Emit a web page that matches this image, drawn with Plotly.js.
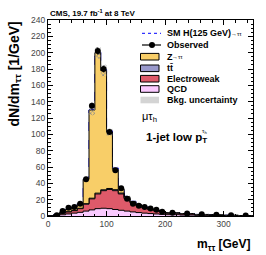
<!DOCTYPE html>
<html><head>
<script src="https://cdn.plot.ly/plotly-3.0.1.min.js"></script>
<style>body{margin:0;background:#fff}</style>
</head><body>
<div id="c" style="width:266px;height:255px"></div>
<script>
// ---- data (dN/dm, 1/GeV) ----
const binEdges = [0,10,20,30,40,50,60,70,80,90,100,110,120,130,140,150,160,170,180,190,200,225,250,275,300,325,350];
const qcd   = [0,0.5,1.5,2.5,3.5,4.5,6,7.5,9,9.5,9,8,7,6,5,4.2,3.5,3,2.5,2,1.6,1.1,0.8,0.5,0.3,0.2];
const ewk   = [0,1,2,2.5,3,4.5,8.5,13.5,18,21.5,23.5,23,20,15,11,8.3,6.5,5,4,3,1.9,1.4,0.8,0.6,0.4,0.2];
const ttbar = [0,0.1,0.2,0.3,0.4,0.5,0.6,0.8,1,1.1,1.2,1.2,1.1,1,0.9,0.8,0.7,0.6,0.5,0.5,0.4,0.3,0.25,0.2,0.15,0.1];
const ztt   = [0,0.4,1.3,2.7,4.1,5.5,29.9,108,172,146,69,25,5,1.5,0.8,0.5,0.3,0.2,0.2,0.1,0.1,0.1,0.05,0,0,0];
const higgs = [0,0,0,0,0,0,0.1,0.3,0.6,1.2,1.5,1.5,1,0.6,0.3,0.2,0.1,0,0,0,0,0,0,0,0,0];
const bkgErr= [0,0.3,0.6,0.8,1,1.3,3,6.5,7,7,4.5,3,2,1.5,1.2,1,0.8,0.7,0.6,0.5,0.4,0.3,0.25,0.2,0.15,0.1];
const obsX  = [15,25,35,45,55,65,75,85,95,105,115,125,135,145,155,165,175,185,195,212.5,237.5,262.5,287.5,312.5,337.5];
const obsY  = [1,6,10,11,15,45,135,202,180,103,56,34,21,15,12.6,11,9.3,7.7,5.3,4,3,2,1.5,1,0.5];
const obsErr= [0.3,0.8,1,1,1.2,2.1,3.7,4.5,4.2,3.2,2.4,1.8,1.5,1.2,1.1,1,1,0.9,0.7,0.4,0.35,0.3,0.25,0.2,0.15];

// ---- helpers ----
function cum(...arrs){ return arrs[0].map((_,i)=>arrs.reduce((s,a)=>s+a[i],0)); }
function stepY(v){ return v.concat([v[v.length-1]]); }
const c1 = cum(qcd);
const c2 = cum(qcd,ewk);
const c3 = cum(qcd,ewk,ttbar);
const c4 = cum(qcd,ewk,ttbar,ztt);
const c5 = cum(qcd,ewk,ttbar,ztt,higgs);
const lo = c4.map((v,i)=>Math.max(0,v-bkgErr[i]));
const hi = c4.map((v,i)=>v+bkgErr[i]);

const COL = {ztt:'#F8CE68', tt:'#9999CC', ewk:'#DE5A6A', qcd:'#FACAFF'};
const FONT = 'Liberation Sans, Arial, Helvetica, sans-serif';

function stack(y, color, fill){
  return {x:binEdges, y:stepY(y), type:'scatter', mode:'lines', line:{shape:'hv', color:'#000', width:1},
          fill:fill, fillcolor:color, hoverinfo:'skip', showlegend:false};
}
const traces = [
  {x:binEdges, y:stepY(c5), type:'scatter', mode:'lines', line:{shape:'hv', color:'#0000FF', width:1, dash:'dash'}, showlegend:false, hoverinfo:'skip'},
  stack(c1, COL.qcd, 'tozeroy'),
  stack(c2, COL.ewk, 'tonexty'),
  stack(c3, COL.tt, 'tonexty'),
  stack(c4, COL.ztt, 'tonexty'),
  {x:binEdges, y:stepY(lo), type:'scatter', mode:'lines', line:{shape:'hv', width:0, color:'rgba(0,0,0,0)'}, showlegend:false, hoverinfo:'skip'},
  {x:binEdges, y:stepY(hi), type:'scatter', mode:'lines', line:{shape:'hv', width:0, color:'rgba(0,0,0,0)'}, fill:'tonexty',
   fillcolor:'rgba(0,0,0,0)', fillpattern:{shape:'x', fgcolor:'#8a8a8a', bgcolor:'rgba(0,0,0,0)', size:3, solidity:0.45}, showlegend:false, hoverinfo:'skip'},
  {x:obsX, y:obsY, type:'scatter', mode:'markers', marker:{color:'#000', size:6},
   error_y:{type:'data', array:obsErr, visible:true, color:'#000', thickness:1, width:0}, showlegend:false, hoverinfo:'skip'}
];

// pixel -> paper helpers for decorations (plot area 48..253 x, 20..216 y)
const L=48, R=253, T=20, B=216;
const px = v => (v-L)/(R-L);
const py = v => (B-v)/(B-T);

const shapes = [];
const annotations = [];
function txt(x, y, text, size, anchor){
  annotations.push({xref:'paper', yref:'paper', x:px(x), y:py(y), xanchor:anchor||'left', yanchor:'middle', showarrow:false,
    text:text, font:{family:FONT, size:size, color:'#000'}});
}
// SM H
shapes.push({type:'line', xref:'paper', yref:'paper', x0:px(142), x1:px(161), y0:py(33.3), y1:py(33.3), line:{color:'#0000FF', width:1, dash:'dot'}});
txt(164.5, 33.3, '<b>SM H(125 GeV)</b>', 9);
txt(228.5, 33.8, '→ττ', 6);
// Observed
shapes.push({type:'line', xref:'paper', yref:'paper', x0:px(142), x1:px(161), y0:py(45), y1:py(45), line:{color:'#000', width:1.2}});
shapes.push({type:'circle', xref:'paper', yref:'paper', x0:px(149), x1:px(155), y0:py(48), y1:py(42), fillcolor:'#000', line:{width:0}});
txt(164.5, 45, '<b>Observed</b>', 9);
const boxes = [[56.7, COL.ztt, '<b>Z</b>'],
               [68.3, COL.tt, '<b>tt̄</b>'],
               [78.7, COL.ewk, '<b>Electroweak</b>'],
               [89, COL.qcd, '<b>QCD</b>']];
boxes.forEach(([y,c,t])=>{
  shapes.push({type:'rect', xref:'paper', yref:'paper', x0:px(140.5), x1:px(159), y0:py(y+3.3), y1:py(y-3.3), fillcolor:c, line:{color:'#000', width:1}});
  txt(164.5, y, t, 9);
});
txt(170, 57.2, '→ττ', 6);
shapes.push({type:'rect', xref:'paper', yref:'paper', x0:px(140.5), x1:px(159), y0:py(103.3), y1:py(96.7), fillcolor:'#d4d4d4', line:{width:0}});
txt(164.5, 100, '<b>Bkg. uncertainty</b>', 9);

// titles & labels
txt(48, 13.5, '<b>CMS, 19.7 fb<sup>-1</sup> at 8 TeV</b>', 8);
txt(253, 244.5, '<b>m<sub>ττ</sub> [GeV]</b>', 12, 'right');
annotations.push({xref:'paper', yref:'paper', x:px(14), y:1, xanchor:'center', yanchor:'top', textangle:-90, showarrow:false,
  text:'<b>dN/dm<sub>ττ</sub> [1/GeV]</b>', font:{family:FONT, size:14, color:'#000'}});
txt(140, 117, 'μτ<sub>h</sub>', 11);
txt(144, 138, '<b>1-jet low p<sub>T</sub></b>', 11.5);
txt(200, 131, 'τ<sub>h</sub>', 6);

const axisCommon = {showline:true, linecolor:'#000', linewidth:1, mirror:'allticks', ticks:'inside', tickcolor:'#000',
  showgrid:false, zeroline:false, tickfont:{family:FONT, size:8.5, color:'#444'}};
const layout = {
  width:266, height:255, margin:{l:48, r:13, t:20, b:39}, paper_bgcolor:'#fff', plot_bgcolor:'#fff', showlegend:false,
  xaxis:Object.assign({}, axisCommon, {range:[0,350], tickvals:[0,100,200,300], ticklen:5, minor:{dtick:20, tick0:0, ticklen:2.5, ticks:'inside', tickcolor:'#000'}}),
  yaxis:Object.assign({}, axisCommon, {range:[0,240], dtick:20, tick0:0, ticklen:5, minor:{dtick:5, tick0:0, ticklen:2.5, ticks:'inside', tickcolor:'#000'}}),
  shapes:shapes, annotations:annotations
};
Plotly.newPlot('c', traces, layout, {displayModeBar:false, staticPlot:true});
</script>
</body></html>
